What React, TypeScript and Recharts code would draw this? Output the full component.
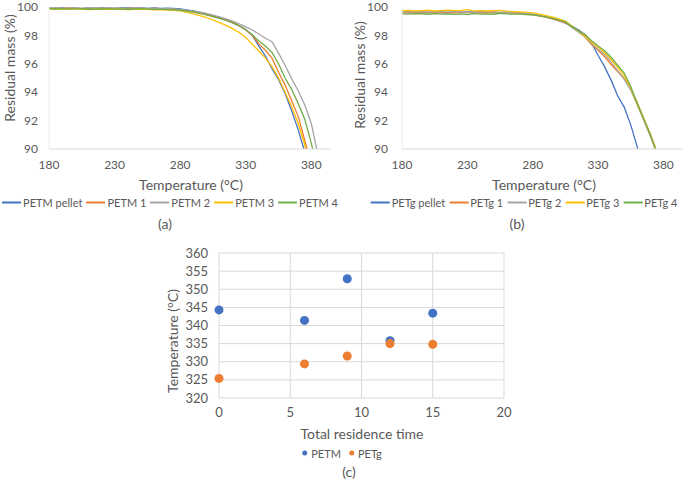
import { LineChart, Line, XAxis, YAxis, ScatterChart, Scatter, CartesianGrid, ZAxis } from 'recharts';

const FONT = 'Lato, "Open Sans", sans-serif';
const TEXT = '#595959';
const COLORS = ['#4472C4', '#ED7D31', '#A5A5A5', '#FFC000', '#70AD47'];

// (a) PETM thermogravimetry
const tempsA = [180, 185, 190, 195, 200, 205, 210, 215, 220, 225, 230, 235, 240, 245, 250, 255, 260, 265, 270, 275, 280, 285, 290, 295, 300, 305, 310, 315, 320, 325, 330, 335, 340, 345, 350, 355, 360, 365, 370, 375, 380, 385];
const petmPellet = [99.92, 99.9, 99.94, 99.91, 99.92, 99.89, 99.93, 99.91, 99.94, 99.92, 99.9, 99.93, 99.95, 99.92, 99.94, 99.91, 99.93, 99.9, 99.92, 99.9, 99.86, 99.8, 99.72, 99.62, 99.5, 99.38, 99.25, 99.1, 98.92, 98.7, 98.42, 98.0, 97.25, 96.55, 95.65, 94.9, 93.9, 92.7, 91.35, 89.8, 88.0, 86.0];
const petm1 = [99.9, 99.92, 99.89, 99.93, 99.9, 99.91, 99.88, 99.92, 99.9, 99.89, 99.91, 99.88, 99.9, 99.92, 99.89, 99.87, 99.9, 99.88, 99.86, 99.84, 99.8, 99.74, 99.66, 99.57, 99.46, 99.35, 99.22, 99.07, 98.9, 98.68, 98.4, 98.0, 97.4, 96.95, 96.4, 95.4, 94.5, 93.4, 92.3, 90.6, 88.9, 87.0];
const petm2 = [99.91, 99.93, 99.9, 99.92, 99.94, 99.9, 99.92, 99.93, 99.91, 99.94, 99.92, 99.9, 99.93, 99.91, 99.92, 99.9, 99.91, 99.89, 99.88, 99.86, 99.83, 99.78, 99.72, 99.64, 99.55, 99.43, 99.3, 99.16, 99.0, 98.82, 98.6, 98.38, 98.1, 97.8, 97.55, 96.75, 95.9, 94.95, 94.1, 93.1, 91.8, 89.6];
const petm3 = [99.86, 99.84, 99.87, 99.83, 99.85, 99.86, 99.82, 99.85, 99.84, 99.86, 99.83, 99.85, 99.82, 99.84, 99.86, 99.83, 99.8, 99.82, 99.79, 99.76, 99.72, 99.62, 99.52, 99.4, 99.26, 99.09, 98.9, 98.7, 98.48, 98.2, 97.85, 97.38, 96.9, 96.4, 95.8, 95.0, 94.0, 93.0, 91.8, 90.3, 88.6, 87.0];
const petm4 = [99.88, 99.86, 99.89, 99.85, 99.87, 99.88, 99.84, 99.87, 99.86, 99.88, 99.85, 99.87, 99.84, 99.86, 99.88, 99.85, 99.83, 99.85, 99.82, 99.8, 99.77, 99.71, 99.64, 99.55, 99.45, 99.33, 99.2, 99.05, 98.88, 98.66, 98.4, 98.05, 97.6, 97.25, 96.8, 96.0, 95.0, 94.2, 93.2, 92.1, 90.4, 88.5];
const namesA = ['PETM pellet', 'PETM 1', 'PETM 2', 'PETM 3', 'PETM 4'];

// (b) PETg thermogravimetry
const tempsB = [180, 185, 190, 195, 200, 205, 210, 215, 220, 225, 230, 235, 240, 245, 250, 255, 260, 265, 270, 275, 280, 285, 290, 295, 300, 305, 310, 315, 320, 325, 330, 335, 340, 345, 350, 355, 360, 365, 370, 375, 380];
const petgPellet = [99.6, 99.62, 99.58, 99.61, 99.63, 99.6, 99.62, 99.59, 99.64, 99.62, 99.66, 99.63, 99.65, 99.62, 99.64, 99.6, 99.63, 99.6, 99.57, 99.53, 99.48, 99.4, 99.3, 99.18, 99.04, 98.86, 98.65, 98.4, 98.05, 97.45, 96.6, 95.8, 94.85, 93.75, 92.95, 91.7, 90.15, 88.4, 86.5, 84.5, 82.5];
const petg1 = [99.62, 99.6, 99.63, 99.59, 99.61, 99.64, 99.6, 99.62, 99.58, 99.63, 99.6, 99.62, 99.59, 99.61, 99.63, 99.58, 99.6, 99.58, 99.55, 99.5, 99.44, 99.37, 99.28, 99.17, 99.04, 98.88, 98.6, 98.25, 97.88, 97.35, 96.95, 96.5, 95.95, 95.45, 94.95, 94.25, 93.25, 92.15, 91.05, 89.8, 88.5];
const petg2 = [99.66, 99.68, 99.65, 99.67, 99.64, 99.66, 99.68, 99.65, 99.67, 99.64, 99.66, 99.63, 99.65, 99.67, 99.64, 99.62, 99.63, 99.6, 99.58, 99.54, 99.49, 99.42, 99.33, 99.22, 99.1, 98.95, 98.55, 98.25, 97.92, 97.42, 97.02, 96.65, 96.12, 95.52, 94.92, 94.15, 93.1, 92.0, 90.9, 89.7, 88.4];
const petg3 = [99.74, 99.76, 99.73, 99.75, 99.77, 99.72, 99.75, 99.78, 99.74, 99.76, 99.82, 99.73, 99.75, 99.72, 99.74, 99.76, 99.71, 99.68, 99.65, 99.62, 99.58, 99.5, 99.4, 99.3, 99.16, 99.0, 98.66, 98.32, 97.96, 97.52, 97.16, 96.8, 96.3, 95.75, 95.15, 94.3, 93.15, 92.1, 91.0, 89.8, 88.5];
const petg4 = [99.52, 99.5, 99.54, 99.51, 99.49, 99.53, 99.5, 99.52, 99.48, 99.51, 99.47, 99.53, 99.5, 99.52, 99.49, 99.56, 99.51, 99.5, 99.5, 99.47, 99.44, 99.38, 99.3, 99.2, 99.08, 98.95, 98.62, 98.32, 98.06, 97.62, 97.26, 96.92, 96.46, 95.9, 95.35, 94.4, 93.2, 92.1, 91.0, 89.7, 88.3];
const namesB = ['PETg pellet', 'PETg 1', 'PETg 2', 'PETg 3', 'PETg 4'];

const tempTicks = [180, 230, 280, 330, 380];
const massTicks = [90, 92, 94, 96, 98, 100];

// (c) onset temperature vs residence time
const residence = [0, 6, 9, 12, 15];
const onsetPETM = [344.3, 341.4, 352.9, 335.8, 343.4];
const onsetPETg = [325.4, 329.4, 331.6, 335.0, 334.8];
const residenceTicks = [0, 5, 10, 15, 20];
const onsetTicks = [320, 325, 330, 335, 340, 345, 350, 355, 360];

const tableA = tempsA.map((t, i) => ({ t, s0: petmPellet[i], s1: petm1[i], s2: petm2[i], s3: petm3[i], s4: petm4[i] }));
const tableB = tempsB.map((t, i) => ({ t, s0: petgPellet[i], s1: petg1[i], s2: petg2[i], s3: petg3[i], s4: petg4[i] }));
const pointsPETM = residence.map((x, i) => ({ x, y: onsetPETM[i] }));
const pointsPETg = residence.map((x, i) => ({ x, y: onsetPETg[i] }));

const tickStyle = { fill: TEXT, fontSize: 12, fontFamily: FONT };
const tickStyleC = { fill: TEXT, fontSize: 13, fontFamily: FONT };

function Label({ x, y, text, size = 14, rotate = false }: { x: number; y: number; text: string; size?: number; rotate?: boolean }) {
  return (
    <div
      style={{
        position: 'absolute', left: x, top: y, whiteSpace: 'nowrap', color: TEXT, fontSize: size, fontFamily: FONT,
        lineHeight: 1, transform: `translate(-50%, -50%)${rotate ? ' rotate(-90deg)' : ''}`,
      }}
    >
      {text}
    </div>
  );
}

function LineLegend({ x, y, names }: { x: number; y: number; names: string[] }) {
  return (
    <div style={{ position: 'absolute', left: x, top: y, transform: 'translate(-50%, -50%)', display: 'flex', gap: 4, alignItems: 'center', whiteSpace: 'nowrap' }}>
      {names.map((n, i) => (
        <div key={n} style={{ display: 'flex', alignItems: 'center', gap: 2 }}>
          <div style={{ width: 19, height: 2, background: COLORS[i] }} />
          <span style={{ color: TEXT, fontSize: 11, fontFamily: FONT }}>{n}</span>
        </div>
      ))}
    </div>
  );
}

function TgaChart({ left, data, marginLeft, marginRight, tickMargin }: { left: number; data: any[]; marginLeft: number; marginRight: number; tickMargin: number }) {
  return (
    <div style={{ position: 'absolute', left, top: 0 }}>
      <LineChart width={340} height={180} data={data} margin={{ top: 7, right: marginRight, bottom: 1, left: marginLeft }}>
        <XAxis dataKey="t" type="number" domain={[180, 395]} ticks={tempTicks} interval={0} height={30} tick={tickStyle}
          tickLine={false} tickSize={0} tickMargin={11} axisLine={{ stroke: '#d9d9d9' }} />
        <YAxis type="number" domain={[90, 100]} ticks={massTicks} interval={0} allowDataOverflow width={40} tick={tickStyle}
          tickLine={false} tickSize={0} tickMargin={tickMargin} axisLine={{ stroke: '#ececec' }} />
        {['s0', 's1', 's2', 's3', 's4'].map((k, i) => (
          <Line key={k} dataKey={k} type="linear" stroke={COLORS[i]} strokeWidth={1.3} dot={false} isAnimationActive={false} />
        ))}
      </LineChart>
    </div>
  );
}

export default function App() {
  return (
    <div style={{ position: 'absolute', left: 0, top: 0, width: 685, height: 480, background: '#fff', overflow: 'hidden' }}>
      <TgaChart left={0} data={tableA} marginLeft={9} marginRight={9} tickMargin={11} />
      <Label x={10} y={68} text="Residual mass (%)" rotate />
      <Label x={191} y={185} text="Temperature (°C)" />
      <LineLegend x={170} y={202} names={namesA} />
      <Label x={165} y={224} text="(a)" />

      <TgaChart left={345} data={tableB} marginLeft={17} marginRight={2} tickMargin={14} />
      <Label x={360} y={75} text="Residual mass (%)" rotate />
      <Label x={544} y={185} text="Temperature (°C)" />
      <LineLegend x={524} y={202} names={namesB} />
      <Label x={517} y={224} text="(b)" />

      <div style={{ position: 'absolute', left: 160, top: 240 }}>
        <ScatterChart width={360} height={190} margin={{ top: 13, right: 16, bottom: 2, left: 19 }}>
          <CartesianGrid stroke="#d9d9d9" />
          <XAxis dataKey="x" type="number" domain={[0, 20]} ticks={residenceTicks} interval={0} height={30} tick={tickStyleC}
            tickLine={false} tickSize={0} tickMargin={10} axisLine={false} />
          <YAxis dataKey="y" type="number" domain={[320, 360]} ticks={onsetTicks} interval={0} width={40} tick={tickStyleC}
            tickLine={false} tickSize={0} tickMargin={11} axisLine={false} />
          <ZAxis range={[17, 17]} />
          <Scatter data={pointsPETM} fill={COLORS[0]} isAnimationActive={false} />
          <Scatter data={pointsPETg} fill={COLORS[1]} isAnimationActive={false} />
        </ScatterChart>
      </div>
      <Label x={173} y={341} text="Temperature (°C)" rotate />
      <Label x={362} y={434} text="Total residence time" />
      <div style={{ position: 'absolute', left: 342, top: 453, transform: 'translate(-50%, -50%)', display: 'flex', gap: 8, alignItems: 'center', whiteSpace: 'nowrap' }}>
        {['PETM', 'PETg'].map((n, i) => (
          <div key={n} style={{ display: 'flex', alignItems: 'center', gap: 4 }}>
            <div style={{ width: 5, height: 5, borderRadius: '50%', background: COLORS[i] }} />
            <span style={{ color: TEXT, fontSize: 11, fontFamily: FONT }}>{n}</span>
          </div>
        ))}
      </div>
      <Label x={349} y={472} text="(c)" />
    </div>
  );
}
